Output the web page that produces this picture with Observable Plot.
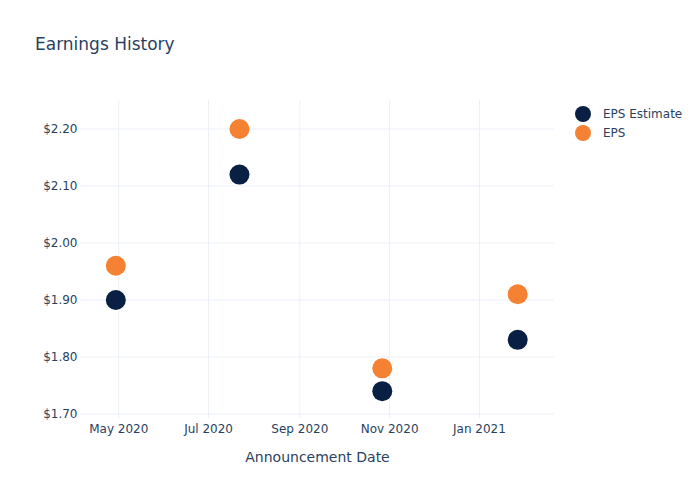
<!DOCTYPE html>
<html>
<head>
<meta charset="utf-8">
<script src="https://cdn.jsdelivr.net/npm/d3@7"></script>
<script src="https://cdn.jsdelivr.net/npm/@observablehq/plot@0.6"></script>
<style>
  body { margin: 0; background: #fff; font-family: "DejaVu Sans", Verdana, sans-serif; }
  #wrap { position: relative; width: 700px; height: 500px; }
  #title { position: absolute; left: 35px; top: 34px; font-size: 17px; color: #2a3f5f; }
  .leg { position: absolute; left: 575px; font-size: 12px; color: #2a3f5f; display: flex; align-items: center; }
  .leg span.sw { display: inline-block; width: 16px; height: 16px; border-radius: 50%; margin-right: 12px; }
</style>
</head>
<body>
<div id="wrap">
  <div id="chart"></div>
  <div id="title">Earnings History</div>
  <div id="legend"></div>
</div>
<script>
const dates = ["2020-04-29", "2020-07-22", "2020-10-27", "2021-01-27"];
const epsEstimate = [1.90, 2.12, 1.74, 1.83];
const eps = [1.96, 2.20, 1.78, 1.91];
const seriesNames = ["EPS Estimate", "EPS"];
const seriesColors = ["#0a1f44", "#f58233"];
const xTicks = ["2020-05-01", "2020-07-01", "2020-09-01", "2020-11-01", "2021-01-01"];
const yTicks = [1.70, 1.80, 1.90, 2.00, 2.10, 2.20];

const parse = d3.utcParse("%Y-%m-%d");
const rows = [];
dates.forEach((d, i) => {
  rows.push({date: parse(d), value: epsEstimate[i], series: seriesNames[0]});
  rows.push({date: parse(d), value: eps[i], series: seriesNames[1]});
});

const grid = "#ebf0f8";
const textColor = "#2a3f5f";

const chart = Plot.plot({
  width: 700,
  height: 500,
  marginLeft: 80,
  marginRight: 146,
  marginTop: 100,
  marginBottom: 82,
  style: {fontFamily: "DejaVu Sans, Verdana, sans-serif", fontSize: "12px", color: textColor, background: "#fff"},
  x: {type: "utc", domain: [parse("2020-04-05"), parse("2021-02-21")]},
  y: {domain: [1.692, 2.25]},
  color: {domain: seriesNames, range: seriesColors},
  marks: [
    Plot.gridX(xTicks.map(parse), {stroke: grid, strokeOpacity: 1}),
    Plot.gridY(yTicks, {stroke: grid, strokeOpacity: 1}),
    Plot.axisY(yTicks, {tickSize: 0, tickPadding: 3, tickFormat: d => "$" + d.toFixed(2), fill: textColor, label: null, fontSize: 12}),
    Plot.axisX(xTicks.map(parse), {tickSize: 0, tickPadding: 6, tickFormat: d3.utcFormat("%b %Y"), fill: textColor, label: null, fontSize: 12}),
    Plot.text(["Announcement Date"], {frameAnchor: "bottom", dy: 39, lineAnchor: "middle", fontSize: 14, fill: textColor}),
    Plot.dot(rows, {x: "date", y: "value", fill: "series", r: 10, strokeWidth: 0})
  ]
});
document.getElementById("chart").appendChild(chart);

const leg = document.getElementById("legend");
seriesNames.forEach((n, i) => {
  const div = document.createElement("div");
  div.className = "leg";
  div.style.top = (106 + i * 19) + "px";
  div.innerHTML = `<span class="sw" style="background:${seriesColors[i]}"></span>${n}`;
  leg.appendChild(div);
});
</script>
</body>
</html>
